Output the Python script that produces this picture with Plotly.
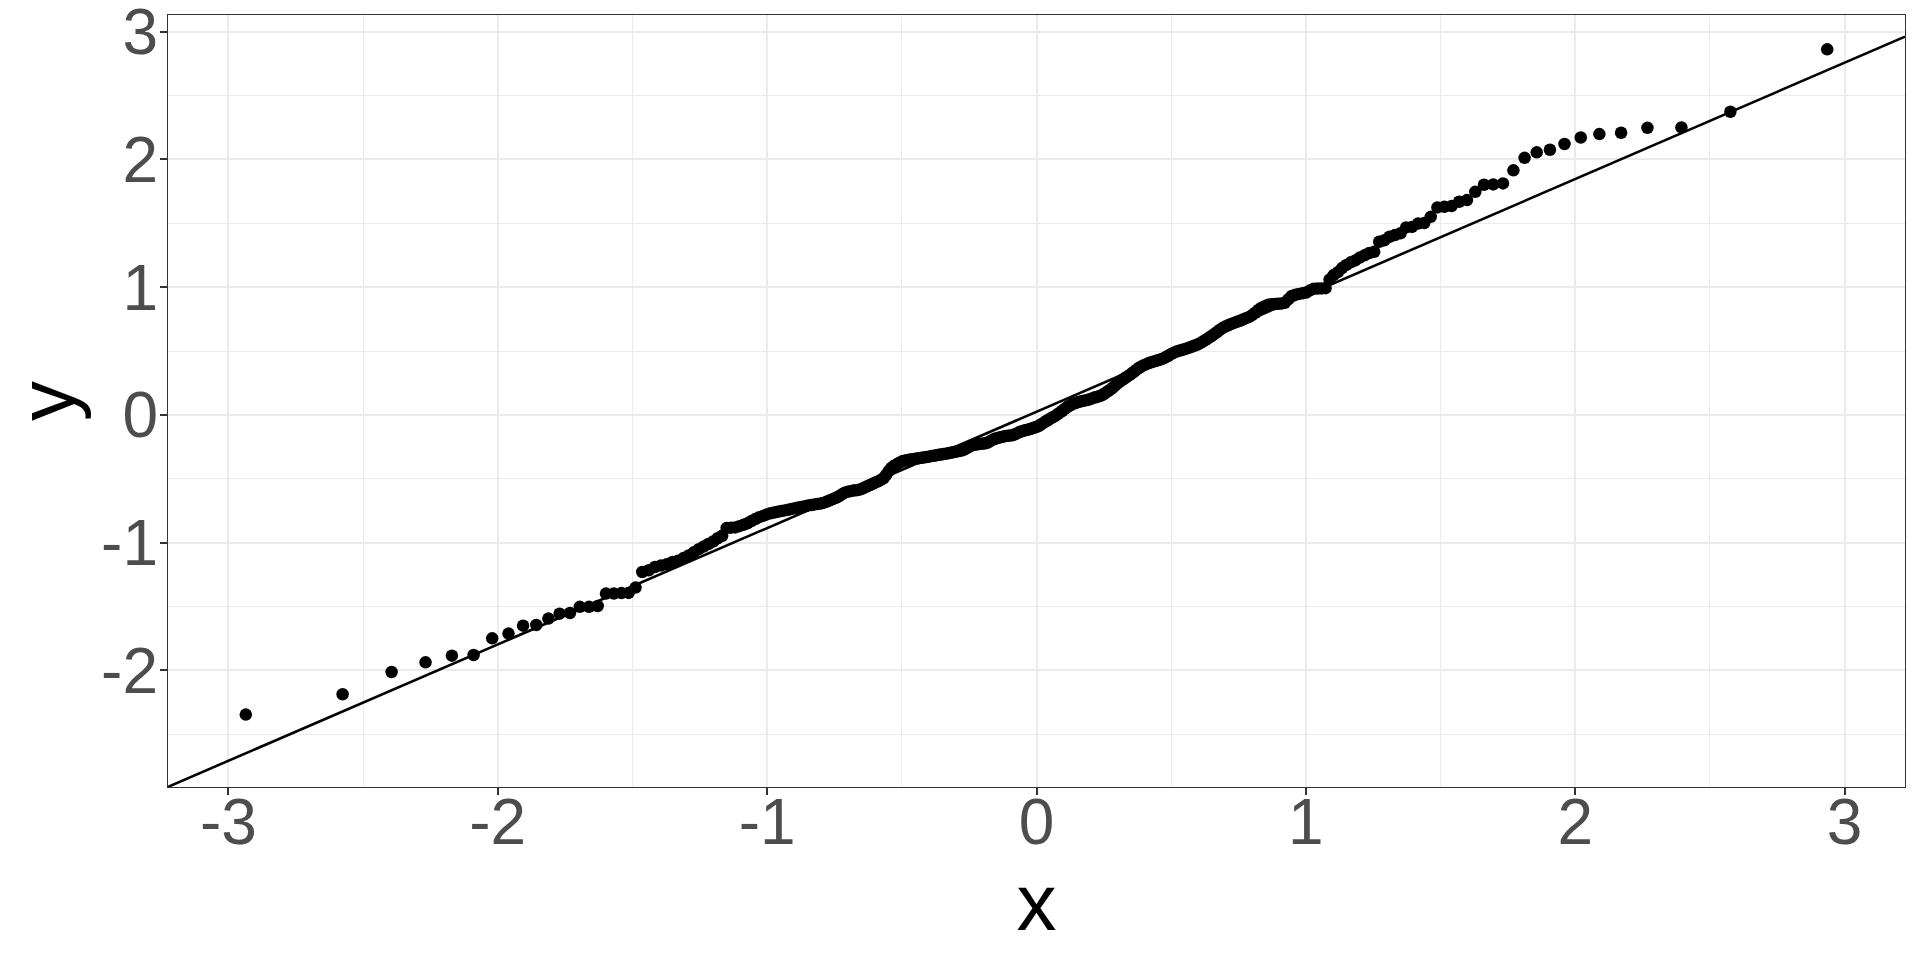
from statistics import NormalDist
import plotly.graph_objects as go

# Sample values (sorted)
sample_lower = [
    -2.345, -2.186, -2.012, -1.936, -1.884, -1.879, -1.748, -1.711, -1.649, -1.644,
    -1.594, -1.555, -1.550, -1.502, -1.502, -1.495, -1.398, -1.398, -1.394, -1.393,
    -1.351, -1.229, -1.215, -1.190, -1.178, -1.168, -1.150, -1.140, -1.120, -1.100,
    -1.075, -1.050, -1.030, -1.010, -0.990, -0.965, -0.945, -0.885, -0.882, -0.880,
    -0.870, -0.860, -0.848, -0.830, -0.815, -0.800, -0.790, -0.778, -0.770, -0.763,
    -0.758, -0.752, -0.747, -0.742, -0.735, -0.730, -0.725, -0.720, -0.715, -0.708,
    -0.705, -0.700, -0.696, -0.692, -0.686, -0.678, -0.668, -0.658, -0.648, -0.636,
    -0.622, -0.608, -0.600, -0.596, -0.592, -0.589, -0.585, -0.578, -0.568, -0.558,
    -0.548, -0.538, -0.528, -0.520, -0.508, -0.495, -0.470, -0.440, -0.415, -0.398,
    -0.388, -0.375, -0.365, -0.358, -0.354, -0.350, -0.347, -0.344, -0.341, -0.338,
    -0.335, -0.332, -0.329, -0.326, -0.322, -0.319, -0.316, -0.312, -0.309, -0.306,
    -0.303, -0.300, -0.296, -0.292, -0.288, -0.284, -0.280, -0.276, -0.268, -0.258,
    -0.248, -0.238, -0.234, -0.231, -0.228, -0.226, -0.224, -0.222, -0.215, -0.205,
    -0.195, -0.186, -0.182, -0.177, -0.172, -0.168, -0.165, -0.162, -0.160, -0.158,
    -0.150, -0.142, -0.134, -0.127, -0.122, -0.118, -0.114, -0.108, -0.102, -0.096,
]
sample_upper = [
    -0.090, -0.080, -0.068, -0.058, -0.045, -0.035, -0.025, -0.015, -0.005, 0.008,
    0.020, 0.033, 0.048, 0.060, 0.072, 0.082, 0.090, 0.096, 0.101, 0.106,
    0.110, 0.114, 0.118, 0.123, 0.130, 0.136, 0.141, 0.146, 0.152, 0.162,
    0.175, 0.188, 0.200, 0.215, 0.232, 0.248, 0.262, 0.275, 0.287, 0.300,
    0.312, 0.326, 0.340, 0.355, 0.370, 0.380, 0.390, 0.398, 0.406, 0.412,
    0.418, 0.424, 0.430, 0.437, 0.444, 0.455, 0.466, 0.478, 0.488, 0.496,
    0.502, 0.508, 0.514, 0.521, 0.528, 0.536, 0.544, 0.552, 0.562, 0.575,
    0.588, 0.602, 0.616, 0.632, 0.648, 0.665, 0.680, 0.692, 0.702, 0.712,
    0.721, 0.730, 0.738, 0.748, 0.758, 0.768, 0.782, 0.800, 0.822, 0.840,
    0.852, 0.862, 0.866, 0.868, 0.870, 0.872, 0.878, 0.905, 0.932, 0.942,
    0.948, 0.952, 0.958, 0.975, 0.988, 0.990, 0.991, 0.993, 1.060, 1.095,
    1.118, 1.150, 1.175, 1.195, 1.210, 1.232, 1.250, 1.268, 1.278, 1.356,
    1.368, 1.395, 1.408, 1.422, 1.468, 1.472, 1.498, 1.502, 1.551, 1.625,
    1.630, 1.635, 1.669, 1.682, 1.747, 1.802, 1.805, 1.813, 1.915, 2.013,
    2.056, 2.076, 2.121, 2.172, 2.199, 2.209, 2.248, 2.251, 2.374, 2.862,
]
sample = sample_lower + sample_upper

# Reference line
line_intercept = 0.0255
line_slope = 0.9108

# Axis settings
x_range = [-3.224, 3.224]
y_range = [-2.912, 3.131]
x_ticks = [-3, -2, -1, 0, 1, 2, 3]
x_ticklabels = ["-3", "-2", "-1", "0", "1", "2", "3"]
y_ticks = [-2, -1, 0, 1, 2, 3]
y_ticklabels = ["-2", "-1", "0", "1", "2", "3"]

# Theoretical normal quantiles (stat_qq)
n = len(sample)
nd = NormalDist()
theoretical = [nd.inv_cdf((i + 0.5) / n) for i in range(n)]

line_x = x_range
line_y = [line_intercept + line_slope * v for v in line_x]

fig = go.Figure()
fig.add_trace(go.Scatter(
    x=theoretical, y=sample, mode="markers",
    marker=dict(color="black", size=12.5, line=dict(width=0)),
    showlegend=False, hoverinfo="x+y",
))
fig.add_trace(go.Scatter(
    x=line_x, y=line_y, mode="lines",
    line=dict(color="black", width=2.6),
    showlegend=False, hoverinfo="skip",
))

font_family = "Liberation Sans, Arial, Helvetica, sans-serif"
axis_common = dict(
    showgrid=True, gridcolor="#EBEBEB", gridwidth=2.2,
    zeroline=False,
    showline=True, linecolor="#333333", linewidth=1.4, mirror=True,
    ticks="outside", ticklen=7, tickwidth=1.8, tickcolor="#333333",
    tickfont=dict(family=font_family, size=64, color="#4D4D4D"),
    ticklabeloverflow="allow",
    minor=dict(showgrid=True, gridcolor="#EBEBEB", gridwidth=1.1, dtick=0.5, tick0=0, ticks=""),
    automargin=False,
)

fig.update_layout(
    width=1920, height=960,
    paper_bgcolor="white", plot_bgcolor="white",
    margin=dict(l=168, r=15, t=15, b=173),
    font=dict(family=font_family),
    xaxis=dict(
        range=x_range, tickmode="array", tickvals=x_ticks, ticktext=x_ticklabels,
        ticklabelstandoff=-28,
        title=dict(text="x", font=dict(family=font_family, size=80, color="black"), standoff=8),
        **axis_common,
    ),
    yaxis=dict(
        range=y_range, tickmode="array", tickvals=y_ticks, ticktext=y_ticklabels,
        ticklabelstandoff=-11,
        title=dict(text="y", font=dict(family=font_family, size=80, color="black"), standoff=0),
        **axis_common,
    ),
)

fig.write_html("out.html", config={"displayModeBar": False},
               post_script="document.body.style.margin='0';")
